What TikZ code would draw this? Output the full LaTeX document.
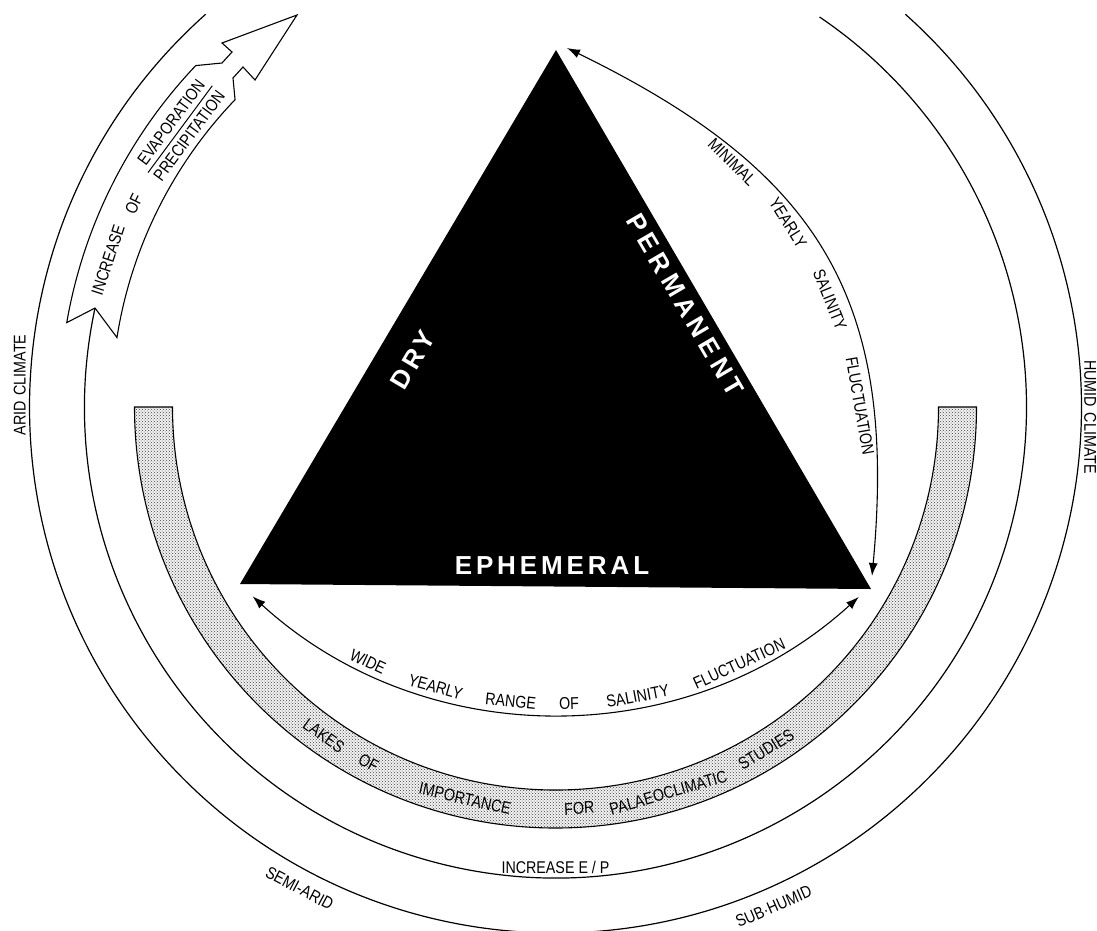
\documentclass[tikz,border=0pt]{standalone}
\usepackage{fontspec}
\setmainfont{Liberation Sans}
\newfontfamily\smallf[FakeStretch=0.84]{Liberation Sans}
\newfontfamily\bigf[LetterSpace=15]{Liberation Sans}
\usetikzlibrary{arrows.meta,patterns}
\begin{document}
\begin{tikzpicture}[x=1pt,y=1pt,
  lbl/.style={font=\smallf\fontsize{17}{19}\selectfont, inner sep=0pt},
  bigt/.style={font=\bigf\bfseries\fontsize{26}{29}\selectfont, text=white, inner sep=0pt},
  ring/.style={line width=1.2pt},
  conn/.style={line width=1.1pt, {Latex[length=13pt,width=9pt]}-{Latex[length=13pt,width=9pt]}},
  bandst/.style={line width=1.1pt, preaction={fill=black!5}, pattern=crosshatch dots, pattern color=black!75},
  arrowst/.style={line width=1.1pt, fill=white, line join=miter}
]
\useasboundingbox (0,0) rectangle (1097,-930);
\clip (0,0) rectangle (1097,-930);
\coordinate (C) at (555.5,-407);

\begin{scope}[shift={(C)}]
  % outer climate arcs
  \draw[ring] (131.7:526) arc[start angle=131.7,end angle=408.3,radius=526];
  \draw[ring] (167.87:471) arc[start angle=167.87,end angle=415.9,radius=471];
  % stippled band
  \draw[bandst] (180:421) arc[start angle=180,end angle=360,radius=421]
     -- (0:383) arc[start angle=360,end angle=180,radius=383] -- cycle;
  % curved arrow at top left
  \draw[arrowst] (170.2:496) arc[start angle=170.2,end angle=136.5,radius=496]
     -- (-333.5,344) -- (-323.5,355) -- (-333.5,364) -- (-258.5,392)
     -- (-300.5,327) -- (-312.5,340) -- (-322.5,329)
     -- (136.2:444) arc[start angle=136.2,end angle=171,radius=444]
     -- (167.87:471) -- cycle;
  % text in the arrow
  \node[lbl, rotate=71.8] (incr) at (161.8:471) {INCREASE};
  \node[lbl, rotate=64.3] (incof) at (154.3:468) {OF};
  \begin{scope}[shift={(143.5:467)}, rotate=53.5, transform shape]
    \node[lbl, anchor=south] (evap) at (0,5) {EVAPORATION};
    \node[lbl, anchor=north] (prec) at (0,-5) {PRECIPITATION};
    \draw[line width=1pt] (prec.north west) ++(0,5) -- ++(108,0);
  \end{scope}
  % band text
  \foreach \a/\w in {234.8/LAKES, 242.3/OF, 257/IMPORTANCE, 273.4/FOR, 286.3/PALAEOCLIMATIC, 301.6/STUDIES}
    \node[lbl, rotate=\a+90] (b\w) at (\a:402) {\w};
  % climate labels
  \node[lbl, anchor=south] (iep) at (270:467) {INCREASE E / P};
  \node[lbl, rotate=332] (semi) at (242:545) {SEMI-ARID};
  \node[lbl, rotate=23.6] (subh) at (293.6:545) {SUB·HUMID};
\end{scope}

\node[lbl, rotate=90, anchor=south] (arid) at (26,-385) {ARID\hspace{6pt}CLIMATE};
\node[lbl, rotate=-90, anchor=south] (humid) at (1084,-417) {HUMID\hspace{6pt}CLIMATE};

% triangle
\coordinate (tA) at (556,-50);
\coordinate (tB) at (240,-584);
\coordinate (tC) at (871,-589);
\fill (tA) -- (tB) -- (tC) -- cycle;
\node[bigt, rotate=59.4] (dry) at (413,-360) {DRY};
\node[bigt, rotate=-59.7] (perm) at (685,-305) {\addfontfeatures{LetterSpace=20}PERMANENT};
\node[bigt] (eph) at (552,-566) {EPHEMERAL};

% arrow: minimal fluctuation
\coordinate (mA) at (567,-48);
\coordinate (mB) at (872,-576);
\draw[conn] (mA) .. controls (819,-171) and (898,-298) .. (mB);
\node[lbl, rotate=-45] (mMin) at (732,-162) {MINIMAL};
\node[lbl, rotate=-58] (mYear) at (788,-223) {YEARLY};
\node[lbl, rotate=-68] (mSal) at (830,-300) {SALINITY};
\node[lbl, rotate=-80] (mFl) at (860,-406) {FLUCTUATION};

% arrow: wide fluctuation
\coordinate (wA) at (252.6,-596.3);
\draw[conn] (wA) arc[start angle=227.6,end angle=312.3,radius=450];
\begin{scope}[shift={(556,-264)}]
  \foreach \a/\w in {244.7/WIDE, 254.1/YEARLY, 264.1/RANGE, 271.7/OF, 280.7/SALINITY, 294.6/FLUCTUATION}
    \node[lbl, anchor=south, rotate=\a+90] (w\w) at (\a:446) {\w};
\end{scope}
\end{tikzpicture}
\end{document}
